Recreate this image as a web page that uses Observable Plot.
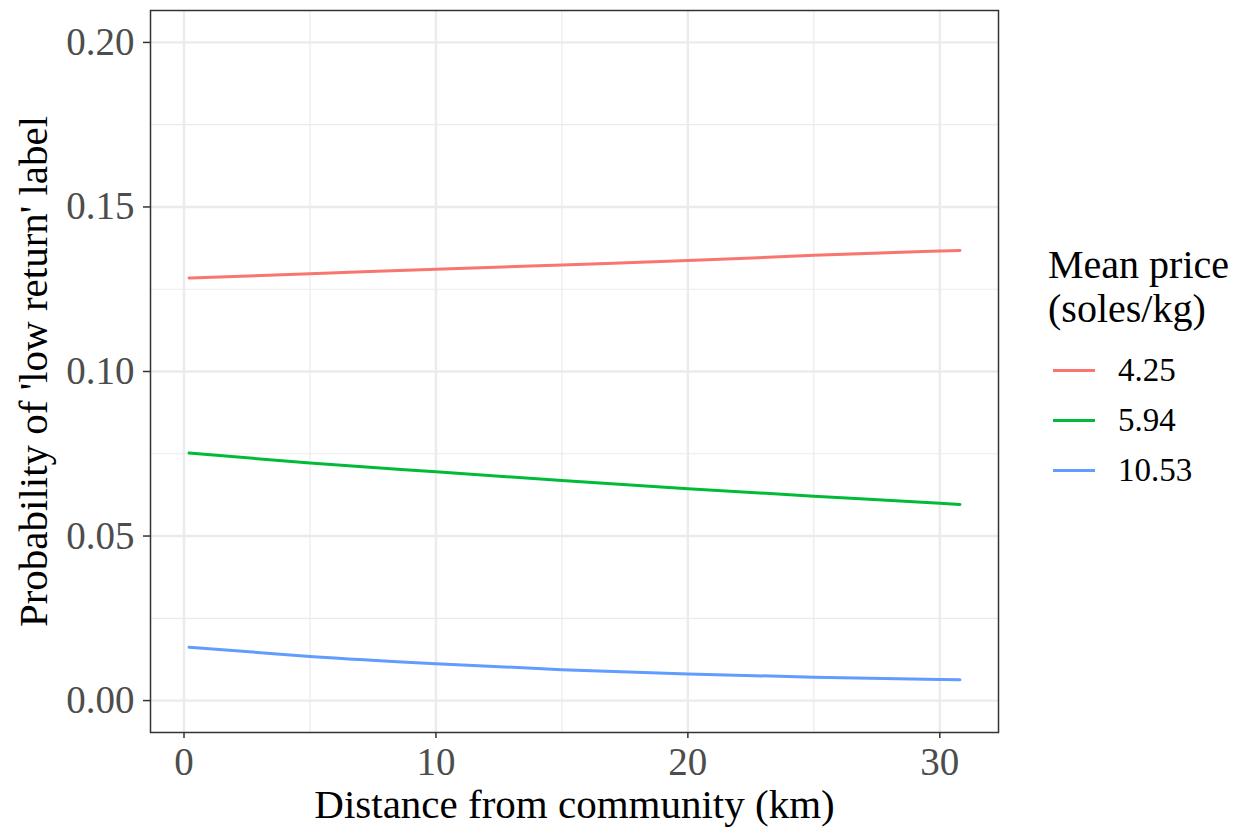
<!DOCTYPE html>
<html>
<head>
<meta charset="utf-8">
<script src="https://cdn.jsdelivr.net/npm/d3@7"></script>
<script src="https://cdn.jsdelivr.net/npm/@observablehq/plot@0.6"></script>
<style>
  body { margin: 0; background: #fff; }
  #wrap { position: relative; width: 1248px; height: 834px; font-family: "Liberation Serif", "Times New Roman", serif; }
  #legend { position: absolute; left: 1048px; top: 243px; color: #000; }
  #legend .title { font-size: 40px; line-height: 44px; margin-bottom: 14px; }
  #legend .row { display: flex; align-items: center; height: 50px; }
  #legend .key { width: 42px; height: 3px; margin-left: 5px; margin-right: 23px; }
  #legend .lab { font-size: 33px; }
</style>
</head>
<body>
<div id="wrap"></div>
<script>
// Distance from community (km)
const distance = [0.2, 5, 10, 15, 20, 25, 30, 30.8];
// Predicted probability of 'low return' label, per mean price level
const price425 = [0.1284, 0.1297, 0.1311, 0.1324, 0.1337, 0.1353, 0.1366, 0.1368];
const price594 = [0.0752, 0.0722, 0.0695, 0.0669, 0.0644, 0.0621, 0.0600, 0.0596];
const price1053 = [0.0162, 0.0134, 0.0112, 0.0094, 0.0081, 0.0071, 0.0064, 0.0063];
const seriesNames = ["4.25", "5.94", "10.53"];
const seriesColors = ["#F8766D", "#00BA38", "#619CFF"];
const xTicks = [0, 10, 20, 30];
const xMinor = [5, 15, 25];
const yTicks = [0, 0.05, 0.10, 0.15, 0.20];
const yMinor = [0.025, 0.075, 0.125, 0.175];

const seriesValues = [price425, price594, price1053];
const data = [];
seriesNames.forEach((name, i) => {
  distance.forEach((d, j) => data.push({distance: d, prob: seriesValues[i][j], price: name}));
});

const font = '"Liberation Serif", "Times New Roman", serif';

const chart = Plot.plot({
  width: 1248,
  height: 834,
  marginLeft: 150,
  marginRight: 250,
  marginTop: 10,
  marginBottom: 102,
  style: {fontFamily: font, background: "#fff"},
  x: {domain: [-1.33, 32.33]},
  y: {domain: [-0.0097, 0.2097]},
  color: {domain: seriesNames, range: seriesColors},
  marks: [
    Plot.ruleX(xMinor, {stroke: "#EBEBEB", strokeWidth: 1.2}),
    Plot.ruleY(yMinor, {stroke: "#EBEBEB", strokeWidth: 1.2}),
    Plot.ruleX(xTicks, {stroke: "#EBEBEB", strokeWidth: 2.4}),
    Plot.ruleY(yTicks, {stroke: "#EBEBEB", strokeWidth: 2.4}),
    Plot.line(data, {x: "distance", y: "prob", z: "price", stroke: "price", strokeWidth: 3, curve: "monotone-x"}),
    Plot.frame({stroke: "#333333", strokeWidth: 1.5}),
    Plot.axisX({ticks: xTicks, tickSize: 6, tickPadding: 9, fontSize: 39, color: "#4D4D4D", stroke: "#333", strokeWidth: 1.5, label: null, tickFormat: d => d3.format("d")(d)}),
    Plot.axisY({ticks: yTicks, tickSize: 7, tickPadding: 9, fontSize: 39, color: "#4D4D4D", stroke: "#333", strokeWidth: 1.5, label: null, tickFormat: d3.format(".2f")}),
    Plot.text(["Distance from community (km)"], {frameAnchor: "bottom", dy: 85, fontSize: 41, fill: "#000", text: d => d, lineAnchor: "bottom"}),
    Plot.text(["Probability of 'low return' label"], {frameAnchor: "left", dx: -117, rotate: -90, fontSize: 41, fill: "#000", text: d => d, textAnchor: "middle", lineAnchor: "middle"})
  ]
});

const wrap = document.getElementById("wrap");
wrap.appendChild(chart);

const legend = document.createElement("div");
legend.id = "legend";
legend.innerHTML = '<div class="title">Mean price<br>(soles/kg)</div>' +
  seriesNames.map((n, i) => `<div class="row"><div class="key" style="background:${seriesColors[i]}"></div><div class="lab">${n}</div></div>`).join("");
wrap.appendChild(legend);
</script>
</body>
</html>
